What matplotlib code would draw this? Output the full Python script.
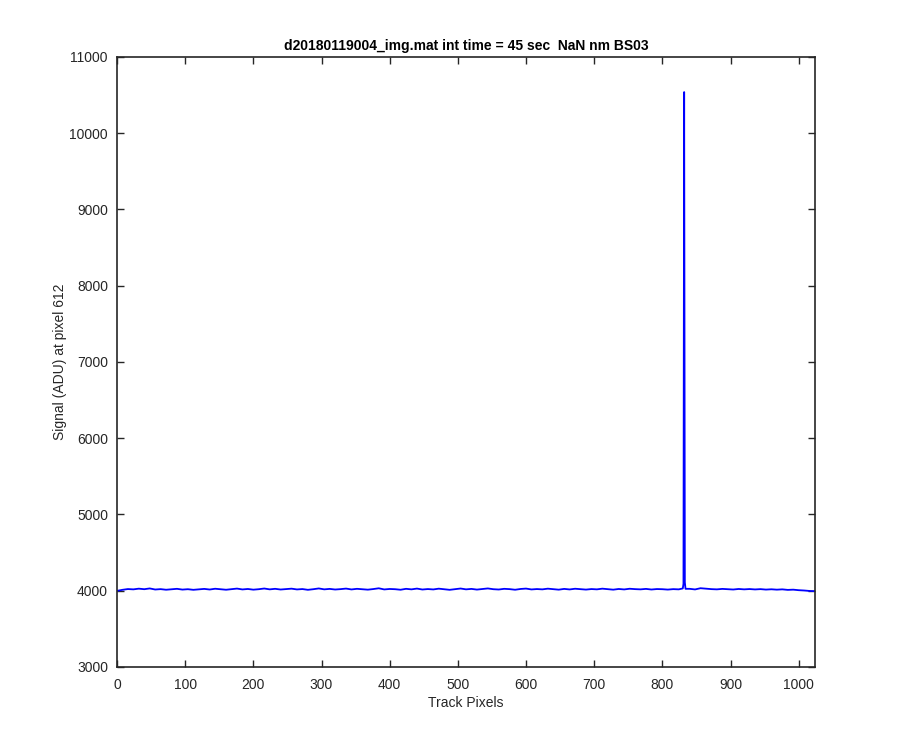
import numpy as np
import matplotlib.pyplot as plt

plt.rcParams['font.family'] = ['Liberation Sans', 'DejaVu Sans']

# baseline, one value per 8 track pixels
base_x = np.arange(0, 1024, 8)
base_y = np.array([
    3998, 4012, 4022, 4018, 4027, 4020, 4030, 4016, 4021, 4013, 4019, 4025, 4015, 4020, 4012, 4018,
    4024, 4016, 4026, 4019, 4013, 4021, 4028, 4017, 4023, 4014, 4020, 4029, 4018, 4025, 4016, 4021,
    4027, 4017, 4022, 4012, 4020, 4030, 4018, 4024, 4016, 4021, 4028, 4017, 4025, 4020, 4014, 4022,
    4032, 4017, 4023, 4020, 4013, 4025, 4018, 4028, 4016, 4022, 4017, 4027, 4020, 4012, 4021, 4029,
    4018, 4024, 4015, 4022, 4030, 4020, 4016, 4025, 4021, 4013, 4023, 4028, 4017, 4022, 4018, 4027,
    4020, 4014, 4024, 4017, 4026, 4021, 4015, 4022, 4018, 4027, 4020, 4014, 4023, 4017, 4026, 4021,
    4018, 4024, 4016, 4022, 4020, 4015, 4021, 4018, 4020, 4025, 4017, 4033, 4027, 4021, 4018, 4024,
    4020, 4016, 4023, 4018, 4022, 4017, 4021, 4015, 4019, 4014, 4018, 4011, 4014, 4007, 4003, 3997,
])
end_x, end_y = 1023, 3995

# the single hot pixel
spike_x = np.array([830, 831, 832, 833, 834])
spike_y = np.array([4030, 4090, 10540, 4110, 4025])

keep = (base_x < spike_x[0]) | (base_x > spike_x[-1])
x = np.concatenate([base_x[keep], spike_x, [end_x]])
y = np.concatenate([base_y[keep], spike_y, [end_y]])
order = np.argsort(x)
x, y = x[order], y[order]

fig = plt.figure(figsize=(9, 7.5), dpi=100)
ax = fig.add_axes([0.13, 0.1107, 0.7756, 0.8133])
ax.plot(x, y, color=(0, 0, 1), linewidth=1.3)

ax.set_xlim(0, 1024)
ax.set_ylim(3000, 11000)
ax.set_xticks(np.arange(0, 1001, 100))
ax.set_yticks(np.arange(3000, 11001, 1000))
ax.tick_params(direction='in', top=True, right=True, length=5, width=1.0,
               labelsize=10, color='#262626', labelcolor='#262626')
ax.tick_params(axis='x', pad=8)
ax.tick_params(axis='y', pad=6.5)
for s in ax.spines.values():
    s.set_color('#262626')
    s.set_linewidth(1.2)

ax.set_xlabel('Track Pixels', fontsize=10, color='#262626', labelpad=3)
ax.set_ylabel('Signal (ADU) at pixel 612', fontsize=10, color='#262626', labelpad=2)
ax.set_title('d20180119004_img.mat int time = 45 sec  NaN nm BS03',
             fontsize=10, fontweight='bold', color='black', pad=5)

fig.savefig('out.png', dpi=100)
